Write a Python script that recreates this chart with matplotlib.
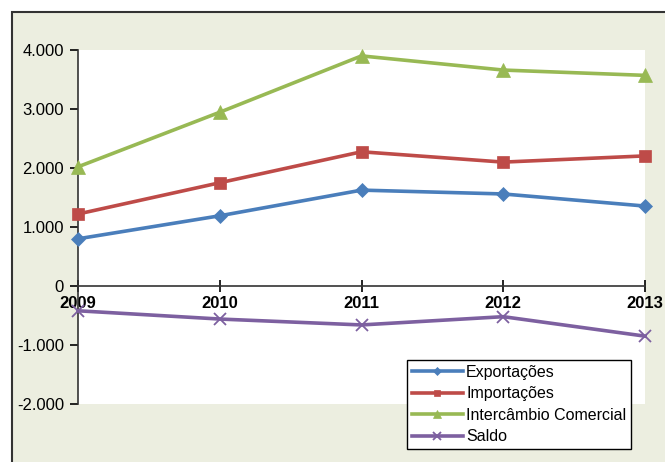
import matplotlib
matplotlib.use("Agg")
import matplotlib.pyplot as plt
from matplotlib.patches import Rectangle
from matplotlib.ticker import FuncFormatter

years = [2009, 2010, 2011, 2012, 2013]
exportacoes = [800, 1190, 1625, 1560, 1355]
importacoes = [1220, 1750, 2275, 2100, 2205]
intercambio = [2020, 2945, 3900, 3660, 3570]
saldo = [-420, -560, -660, -520, -850]

series = [
    ("Exportações", exportacoes, "#4A7EBB", "D", 7),
    ("Importações", importacoes, "#BE4B48", "s", 8),
    ("Intercâmbio Comercial", intercambio, "#98B954", "^", 10),
    ("Saldo", saldo, "#7D60A0", "x", 9),
]

plt.rcParams["font.family"] = ["Liberation Sans", "DejaVu Sans"]

fig = plt.figure(figsize=(6.65, 4.62), dpi=100, facecolor="white")
# outer framed panel (extends past right and bottom edges)
fig.add_artist(Rectangle((12 / 665, -0.1), 1.2, 1.1 - 12 / 462,
                         transform=fig.transFigure, facecolor="#ECEEE0",
                         edgecolor="#333333", linewidth=1.5, zorder=-10))

ax = fig.add_axes([78 / 665, 58 / 462, 567 / 665, 354 / 462])
ax.set_facecolor("white")

for label, vals, color, marker, ms in series:
    ax.plot(years, vals, color=color, linewidth=2.6, marker=marker,
            markersize=ms, markeredgewidth=1.3 if marker == "x" else 0.5,
            markeredgecolor=color, label=label, clip_on=False, zorder=3)

ax.set_xlim(2009, 2013)
ax.set_ylim(-2000, 4000)
ax.set_yticks([-2000, -1000, 0, 1000, 2000, 3000, 4000])
ax.yaxis.set_major_formatter(FuncFormatter(lambda v, _: f"{int(v):,}".replace(",", ".")))
ax.set_xticks(years)
ax.set_xticklabels([str(y) for y in years])

ax.spines["top"].set_visible(False)
ax.spines["right"].set_visible(False)
ax.spines["bottom"].set_position(("data", 0))
for s in ("left", "bottom"):
    ax.spines[s].set_color("#333333")
    ax.spines[s].set_linewidth(1.2)
ax.tick_params(axis="y", direction="out", length=6, width=1.2, labelsize=12, pad=4)
ax.tick_params(axis="x", direction="inout", length=8, width=1.2, labelsize=12, pad=3)
for lbl in ax.get_xticklabels():
    lbl.set_fontweight("bold")

leg = fig.legend(loc="lower left", bbox_to_anchor=(407 / 665, 13 / 462),
                 bbox_transform=fig.transFigure, borderaxespad=0, fontsize=11.5,
                 frameon=True, fancybox=False, framealpha=1, edgecolor="black",
                 handlelength=3.2, handletextpad=0.2, labelspacing=0.4,
                 borderpad=0.3, markerscale=0.6)
leg.get_frame().set_linewidth(1.0)

fig.savefig("out.png", dpi=100, facecolor=fig.get_facecolor())
